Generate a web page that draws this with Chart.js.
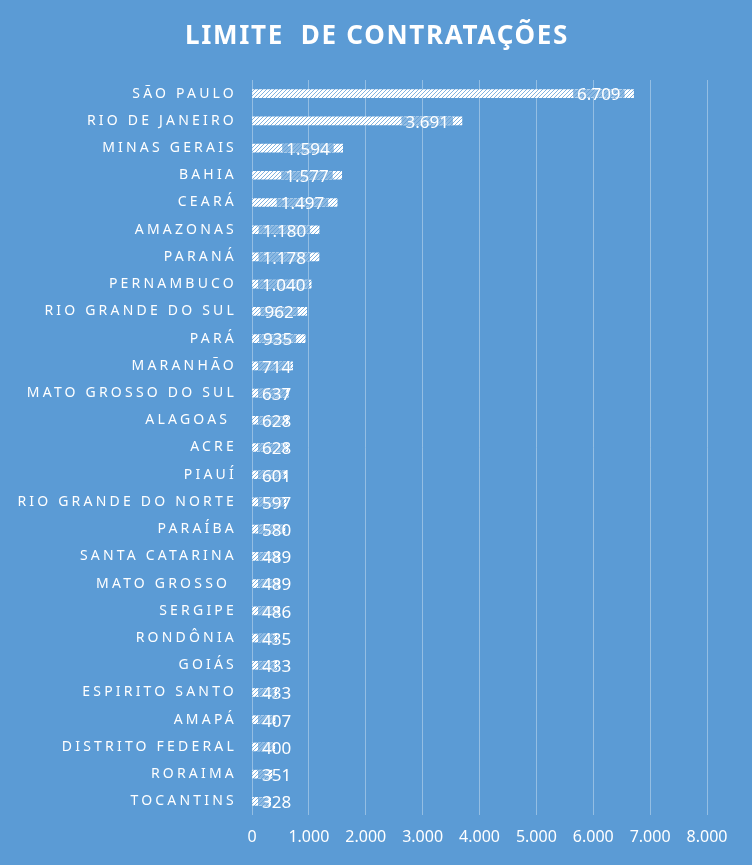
<!DOCTYPE html>
<html>
<head>
<meta charset="utf-8">
<script src="https://cdn.jsdelivr.net/npm/chart.js@4.4.1/dist/chart.umd.min.js"></script>
<style>
  html,body{margin:0;padding:0;background:#5B9BD5;}
  #wrap{width:752px;height:865px;}
</style>
</head>
<body>
<div id="wrap"><canvas id="c"></canvas></div>
<script>
// estados e limites
const estados=["SÃO PAULO","RIO DE JANEIRO","MINAS GERAIS","BAHIA","CEARÁ","AMAZONAS","PARANÁ","PERNAMBUCO",
  "RIO GRANDE DO SUL","PARÁ","MARANHÃO","MATO GROSSO DO SUL","ALAGOAS ","ACRE","PIAUÍ","RIO GRANDE DO NORTE",
  "PARAÍBA","SANTA CATARINA","MATO GROSSO ","SERGIPE","RONDÔNIA","GOIÁS","ESPIRITO SANTO","AMAPÁ",
  "DISTRITO FEDERAL","RORAIMA","TOCANTINS"];
const limites=[6709,3691,1594,1577,1497,1180,1178,1040,962,935,714,637,628,628,601,597,580,489,489,486,435,433,433,407,400,351,328];
const eixoMax=8000, eixoPasso=1000;
const titulo="LIMITE  DE CONTRATAÇÕES";

const fmt=v=>String(Math.round(v)).replace(/\B(?=(\d{3})+(?!\d))/g,'.');

// padrão hachurado branco
function hachura(){
  const p=document.createElement('canvas'); p.width=4; p.height=4;
  const g=p.getContext('2d');
  g.fillStyle='#ffffff'; g.fillRect(0,0,4,4);
  g.strokeStyle='rgba(91,155,213,0.85)'; g.lineWidth=0.9;
  g.beginPath();
  g.moveTo(0,4); g.lineTo(4,0);
  g.moveTo(-1,1); g.lineTo(1,-1);
  g.moveTo(3,5); g.lineTo(5,3);
  g.stroke();
  return document.getElementById('c').getContext('2d').createPattern(p,'repeat');
}

// espaçamento de letras nos nomes (eixo y)
const espacamento={
  id:'espacamento',
  beforeDraw(chart){ chart.ctx.letterSpacing='3.2px'; },
  beforeDatasetsDraw(chart){ chart.ctx.letterSpacing='0px'; }
};

// título centrado na página
const tituloPlugin={
  id:'tituloPlugin',
  afterDraw(chart){
    const ctx=chart.ctx;
    ctx.save();
    ctx.letterSpacing='1.7px';
    ctx.font='bold 26px "Noto Sans"';
    ctx.fillStyle='#ffffff';
    ctx.textAlign='center';
    ctx.textBaseline='middle';
    ctx.fillText(titulo,chart.width/2+1,37);
    ctx.restore();
  }
};

// rótulos de dados
const rotulos={
  id:'rotulos',
  afterDatasetsDraw(chart){
    const ctx=chart.ctx, meta=chart.getDatasetMeta(0), x0=chart.scales.x.getPixelForValue(0);
    ctx.save();
    ctx.letterSpacing='0px';
    ctx.font='17px "Noto Sans"';
    ctx.textBaseline='middle';
    meta.data.forEach((bar,i)=>{
      const txt=fmt(limites[i]);
      const w=ctx.measureText(txt).width;
      const left=Math.max(bar.x-13-w, x0+10);
      const r=Math.min(left+w+4, bar.x-2);
      if(r>left-4){
        ctx.fillStyle='rgba(91,155,213,0.72)';
        ctx.fillRect(left-4, bar.y-4, r-(left-4), 8);
      }
      ctx.fillStyle='#ffffff';
      ctx.fillText(txt,left,bar.y+2);
    });
    ctx.restore();
  }
};

new Chart(document.getElementById('c'),{
  type:'bar',
  data:{labels:estados,datasets:[{data:limites,backgroundColor:hachura(),barThickness:8,borderWidth:0}]},
  options:{
    indexAxis:'y',
    responsive:true,maintainAspectRatio:false,animation:false,
    layout:{padding:{left:0,right:45,top:80,bottom:0}},
    plugins:{
      legend:{display:false},
      tooltip:{enabled:false},
      title:{display:false}
    },
    scales:{
      x:{min:0,max:eixoMax,
        ticks:{stepSize:eixoPasso,color:'#ffffff',font:{family:'"Noto Sans"',size:16},padding:13,z:1,callback:v=>fmt(v)},
        grid:{color:'rgba(255,255,255,0.35)',drawTicks:false},
        border:{display:false},
        afterFit(s){ s.height=50; }},
      y:{
        ticks:{color:'#ffffff',font:{family:'"Noto Sans"',size:14},padding:15},
        grid:{display:false,drawTicks:false},
        border:{display:false},
        afterFit(s){ s.width=252; }
      }
    }
  },
  plugins:[espacamento,tituloPlugin,rotulos]
});
</script>
</body>
</html>
